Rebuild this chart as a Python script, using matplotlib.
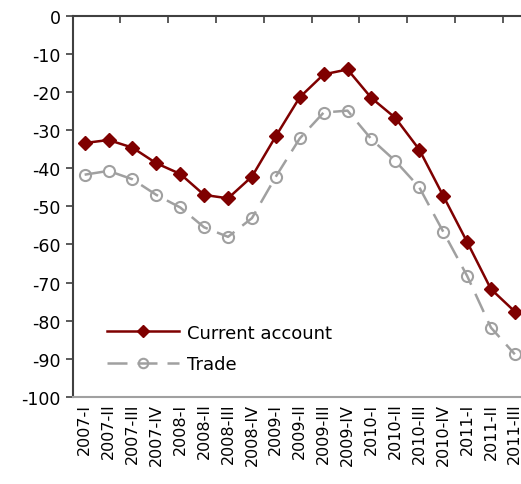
import matplotlib
matplotlib.use("Agg")
import matplotlib.pyplot as plt
import numpy as np

plt.rcParams["axes.unicode_minus"] = False

# quarters on the x axis
quarters = ["2007-I", "2007-II", "2007-III", "2007-IV",
            "2008-I", "2008-II", "2008-III", "2008-IV",
            "2009-I", "2009-II", "2009-III", "2009-IV",
            "2010-I", "2010-II", "2010-III", "2010-IV",
            "2011-I", "2011-II", "2011-III"]

current_account = [-33.4, -32.6, -34.6, -38.7, -41.5, -47.0, -47.9, -42.2,
                   -31.6, -21.4, -15.4, -14.1, -21.6, -26.8, -35.1, -47.2,
                   -59.3, -71.7, -77.6]
trade = [-41.7, -40.7, -42.9, -47.0, -50.3, -55.5, -58.0, -53.1,
         -42.2, -32.2, -25.4, -24.9, -32.4, -38.1, -45.0, -56.6,
         -68.2, -81.8, -88.8]

red = "#7f0000"
grey = "#a0a0a0"

fig = plt.figure(figsize=(5.21, 4.85), dpi=100)
ax = fig.add_axes([0.1395, 0.1794, 0.8716, 0.7862])

x = np.arange(len(quarters))
ax.plot(x, current_account, "-", color=red, lw=1.8, marker="D", ms=7,
        mfc=red, mec=red, label="Current account", zorder=3)
ax.plot(x, trade, color=grey, lw=1.8, ls=(0, (8, 4)), marker="o", ms=8,
        mfc="none", mec=grey, mew=1.5, label="Trade", zorder=2)

ax.set_xlim(-0.5, len(quarters) - 0.5)
ax.set_ylim(-100, 0)
ax.set_yticks(np.arange(-100, 1, 10))

# category axis sits at y=0 (top), labels low
ax.set_xticks(x)
ax.set_xticklabels(quarters, rotation=90, fontsize=11.5)
ax.tick_params(axis="x", which="major", length=0, pad=4)
ax.set_xticks(np.arange(-0.5, len(quarters), 2), minor=True)
ax.tick_params(axis="x", which="minor", top=True, bottom=False,
               direction="in", length=5, width=1.2, color="#404040")
ax.tick_params(axis="y", direction="out", length=5, width=1.2,
               color="#404040", labelsize=12.5)

for s in ["top", "left"]:
    ax.spines[s].set_color("#404040")
    ax.spines[s].set_linewidth(1.5)
ax.spines["bottom"].set_color(grey)
ax.spines["bottom"].set_linewidth(1.5)
ax.spines["right"].set_visible(False)

ax.legend(loc="lower left", bbox_to_anchor=(0.04, 0.02), frameon=False,
          fontsize=13, handlelength=4.0, handletextpad=0.4, labelspacing=0.75,
          markerscale=0.85)

fig.savefig("out.png", dpi=100)
